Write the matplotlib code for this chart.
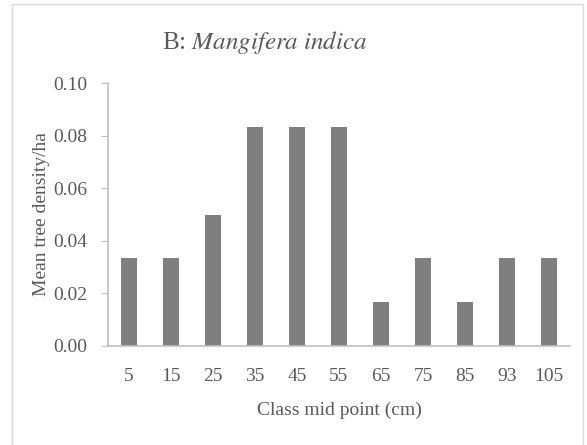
import matplotlib.pyplot as plt
from matplotlib.patches import Rectangle

plt.rcParams['font.family'] = ['Liberation Serif', 'DejaVu Serif']

# class mid points and mean density
classes = ['5', '15', '25', '35', '45', '55', '65', '75', '85', '93', '105']
density = [0.0333, 0.0333, 0.05, 0.0833, 0.0833, 0.0833, 0.0167, 0.0333, 0.0167, 0.0333, 0.0333]

txt = '#595959'
axc = '#bfbfbf'

fig = plt.figure(figsize=(5.87, 4.45), dpi=100)
ax = fig.add_axes([108 / 587, 1 - 346 / 445, (570 - 108) / 587, (346 - 83) / 445])

x = range(len(classes))
ax.bar(x, density, width=0.39, color='#7f7f7f')
ax.set_xlim(-0.5, len(classes) - 0.5)
ax.set_ylim(0, 0.10)
ax.set_yticks([0, 0.02, 0.04, 0.06, 0.08, 0.10])
ax.set_yticklabels([f'{v:.2f}' for v in ax.get_yticks()])
ax.set_xticks(list(x))
ax.set_xticklabels(classes)

for s in ['top', 'right']:
    ax.spines[s].set_visible(False)
for s in ['left', 'bottom']:
    ax.spines[s].set_color(axc)
    ax.spines[s].set_linewidth(1.2)

ax.tick_params(axis='y', length=5, color=axc, labelsize=14, labelcolor=txt, pad=10)
ax.tick_params(axis='x', length=0, labelsize=14, labelcolor=txt, pad=16)

ax.set_xlabel('Class mid point (cm)', fontsize=14, color=txt, labelpad=12)
ax.set_ylabel('Mean tree density/ha', fontsize=14, color=txt, labelpad=2)

# title: plain "B:" followed by italic species name (STIX italic, Times-like)
fig.text(265 / 587, 1 - 42 / 445, 'B: $\\mathit{Mangifera\\ indica}$', ha='center', va='center',
         fontsize=18, color=txt, math_fontfamily='stix')

# chart border
fig.patches.append(Rectangle((12 / 587, -0.01), (583 - 12) / 587, 1 - 4 / 445 + 0.01,
                             transform=fig.transFigure, fill=False, edgecolor='#d9d9d9', lw=1))

fig.savefig('out.png', dpi=100)
